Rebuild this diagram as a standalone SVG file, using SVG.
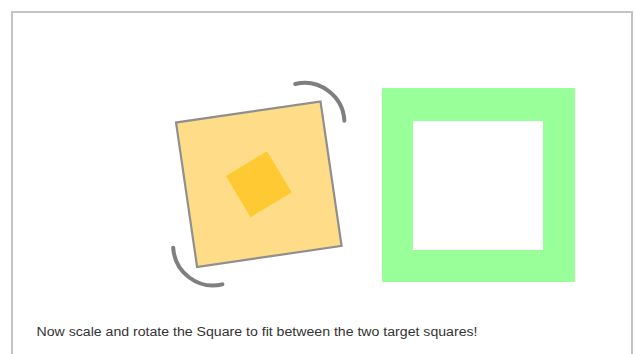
<svg xmlns="http://www.w3.org/2000/svg" width="635" height="354" viewBox="0 0 635 354">
<style>
.frame{fill:none;stroke:#c4c4c4;stroke-width:2}
.sq{fill:#ffdd88;stroke:#8f8f8f;stroke-width:2.2}
.inner{fill:#ffc933}
.handle{fill:none;stroke:#7f7f7f;stroke-width:4;stroke-linecap:round}
.target{fill:#99ff99;fill-rule:evenodd}
.label{font-family:"Lucida Grande","Liberation Sans",Arial,sans-serif;font-size:12px;fill:#333}
</style>
<rect width="635" height="354" fill="#ffffff"/>
<path class="frame" d="M12,354 V12 H632 V354"/>
<g id="square" transform="translate(258.8,184.2) rotate(-8.3)">
  <rect class="sq" x="-73" y="-73" width="146" height="146"/>
  <rect class="inner" x="-24" y="-24" width="48" height="48" transform="rotate(-22.7)"/>
  <path class="handle" d="M50.5,-93.85 A40,40 0 0 1 93.85,-50.5"/>
  <path class="handle" d="M-50.5,93.85 A40,40 0 0 1 -93.85,50.5"/>
</g>
<g id="target">
  <path class="target" d="M382,88 H575 V282 H382 Z M413,121 V250 H543 V121 Z"/>
</g>
<text class="label" x="36.5" y="335.5" textLength="441" lengthAdjust="spacingAndGlyphs">Now scale and rotate the Square to fit between the two target squares!</text>
</svg>
